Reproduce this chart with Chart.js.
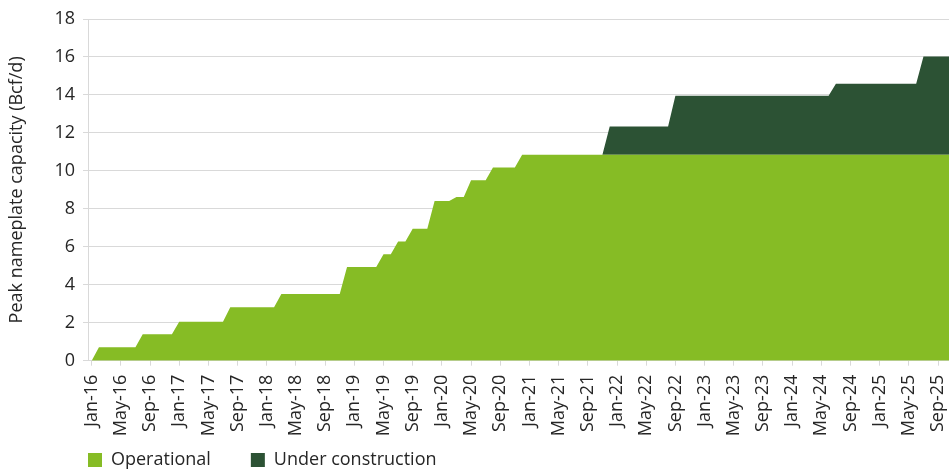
<!DOCTYPE html>
<html>
<head>
<meta charset="utf-8">
<script src="https://cdn.jsdelivr.net/npm/chart.js@4.4.1/dist/chart.umd.min.js"></script>
<style>
  html, body { margin: 0; padding: 0; background: #ffffff; }
  canvas { display: block; }
</style>
</head>
<body>
<canvas id="chart" width="949" height="469"></canvas>
<script>
// ---- Data ----
const categories = [
  'Jan-16','Feb-16','Mar-16','Apr-16','May-16','Jun-16','Jul-16','Aug-16','Sep-16','Oct-16','Nov-16','Dec-16',
  'Jan-17','Feb-17','Mar-17','Apr-17','May-17','Jun-17','Jul-17','Aug-17','Sep-17','Oct-17','Nov-17','Dec-17',
  'Jan-18','Feb-18','Mar-18','Apr-18','May-18','Jun-18','Jul-18','Aug-18','Sep-18','Oct-18','Nov-18','Dec-18',
  'Jan-19','Feb-19','Mar-19','Apr-19','May-19','Jun-19','Jul-19','Aug-19','Sep-19','Oct-19','Nov-19','Dec-19',
  'Jan-20','Feb-20','Mar-20','Apr-20','May-20','Jun-20','Jul-20','Aug-20','Sep-20','Oct-20','Nov-20','Dec-20',
  'Jan-21','Feb-21','Mar-21','Apr-21','May-21','Jun-21','Jul-21','Aug-21','Sep-21','Oct-21','Nov-21','Dec-21',
  'Jan-22','Feb-22','Mar-22','Apr-22','May-22','Jun-22','Jul-22','Aug-22','Sep-22','Oct-22','Nov-22','Dec-22',
  'Jan-23','Feb-23','Mar-23','Apr-23','May-23','Jun-23','Jul-23','Aug-23','Sep-23','Oct-23','Nov-23','Dec-23',
  'Jan-24','Feb-24','Mar-24','Apr-24','May-24','Jun-24','Jul-24','Aug-24','Sep-24','Oct-24','Nov-24','Dec-24',
  'Jan-25','Feb-25','Mar-25','Apr-25','May-25','Jun-25','Jul-25','Aug-25','Sep-25','Oct-25','Nov-25'
];

const operational = [
  0, 0.71, 0.71, 0.71, 0.71, 0.71, 0.71, 1.39, 1.39, 1.39, 1.39, 1.39,
  2.05, 2.05, 2.05, 2.05, 2.05, 2.05, 2.05, 2.82, 2.82, 2.82, 2.82, 2.82,
  2.82, 2.82, 3.51, 3.51, 3.51, 3.51, 3.51, 3.51, 3.51, 3.51, 3.51, 4.94,
  4.94, 4.94, 4.94, 4.94, 5.61, 5.61, 6.28, 6.28, 6.95, 6.95, 6.95, 8.41,
  8.41, 8.41, 8.62, 8.62, 9.51, 9.51, 9.51, 10.18, 10.18, 10.18, 10.18, 10.85,
  10.85, 10.85, 10.85, 10.85, 10.85, 10.85, 10.85, 10.85, 10.85, 10.85, 10.85, 10.85,
  10.85, 10.85, 10.85, 10.85, 10.85, 10.85, 10.85, 10.85, 10.85, 10.85, 10.85, 10.85,
  10.85, 10.85, 10.85, 10.85, 10.85, 10.85, 10.85, 10.85, 10.85, 10.85, 10.85, 10.85,
  10.85, 10.85, 10.85, 10.85, 10.85, 10.85, 10.85, 10.85, 10.85, 10.85, 10.85, 10.85,
  10.85, 10.85, 10.85, 10.85, 10.85, 10.85, 10.85, 10.85, 10.85, 10.85, 10.85
];

const underConstruction = [
  0, 0, 0, 0, 0, 0, 0, 0, 0, 0, 0, 0,
  0, 0, 0, 0, 0, 0, 0, 0, 0, 0, 0, 0,
  0, 0, 0, 0, 0, 0, 0, 0, 0, 0, 0, 0,
  0, 0, 0, 0, 0, 0, 0, 0, 0, 0, 0, 0,
  0, 0, 0, 0, 0, 0, 0, 0, 0, 0, 0, 0,
  0, 0, 0, 0, 0, 0, 0, 0, 0, 0, 0, 1.49,
  1.49, 1.49, 1.49, 1.49, 1.49, 1.49, 1.49, 1.49, 3.11, 3.11, 3.11, 3.11,
  3.11, 3.11, 3.11, 3.11, 3.11, 3.11, 3.11, 3.11, 3.11, 3.11, 3.11, 3.11,
  3.11, 3.11, 3.11, 3.11, 3.11, 3.11, 3.74, 3.74, 3.74, 3.74, 3.74, 3.74,
  3.74, 3.74, 3.74, 3.74, 3.74, 3.74, 5.18, 5.18, 5.18, 5.18, 5.18
];

const seriesNames = ['Operational', 'Under construction'];
const tickLabelEvery = 4;           // a label every 4 months (Jan, May, Sep)
const visibleMonths = 118;          // Jan-16 .. Oct-25 fully visible
const yTicks = [0, 2, 4, 6, 8, 10, 12, 14, 16, 18];
const yTitle = 'Peak nameplate capacity (Bcf/d)';

// ---- Style ----
const FONT = 'Open Sans';
const TEXT = '#262626';
const GRID = '#d9d9d9';
const LIGHT = '#86bc25';
const DARK = '#2c5234';

const tickIndices = categories.map((_, i) => i).filter(i => i % tickLabelEvery === 0 && i < visibleMonths);
const toPoints = arr => arr.map((v, i) => ({ x: i, y: v }));

const legendPlacer = {
  id: 'legendPlacer',
  beforeLayout(chart) {
    const lg = chart.legend;
    if (lg && !lg.__patched) {
      const fit = lg.fit;
      lg.fit = function () { fit.call(this); this.height = 30; };
      lg.__patched = true;
    }
  },
  afterLayout(chart) {
    const lg = chart.legend;
    if (!lg) return;
    const pad = lg.options.labels.padding;
    lg.left = chart.chartArea.left - pad;
    lg.top = 451 - pad;
  }
};

new Chart(document.getElementById('chart'), {
  type: 'line',
  data: {
    datasets: [
      {
        label: seriesNames[0],
        data: toPoints(operational),
        backgroundColor: LIGHT,
        borderColor: LIGHT,
        borderWidth: 0,
        pointRadius: 0,
        fill: 'origin',
        tension: 0
      },
      {
        label: seriesNames[1],
        data: toPoints(underConstruction),
        backgroundColor: DARK,
        borderColor: DARK,
        borderWidth: 0,
        pointRadius: 0,
        fill: '-1',
        tension: 0
      }
    ]
  },
  options: {
    responsive: false,
    animation: false,
    devicePixelRatio: 1,
    events: [],
    layout: { padding: { top: 19, left: 0, right: 0, bottom: 0 } },
    plugins: {
      tooltip: { enabled: false },
      legend: {
        position: 'bottom',
        align: 'start',
        labels: {
          boxWidth: 14,
          boxHeight: 14,
          padding: 40,
          color: TEXT,
          font: { family: FONT, size: 18 }
        }
      }
    },
    scales: {
      x: {
        type: 'linear',
        min: -0.5,
        max: visibleMonths - 0.5,
        afterBuildTicks: s => { s.ticks = tickIndices.map(v => ({ value: v })); },
        ticks: {
          autoSkip: false,
          minRotation: 90,
          maxRotation: 90,
          padding: 9,
          color: TEXT,
          font: { family: FONT, size: 18 },
          callback: v => categories[v]
        },
        grid: { drawOnChartArea: false, drawTicks: true, tickLength: 5, color: GRID },
        border: { color: GRID },
        afterFit: s => { s.height = 78.3; s.paddingLeft = 0; s.paddingRight = 0; }
      },
      y: {
        stacked: true,
        min: 0,
        max: 18,
        afterBuildTicks: s => { s.ticks = yTicks.map(v => ({ value: v })); },
        ticks: {
          padding: 8,
          color: TEXT,
          font: { family: FONT, size: 18 }
        },
        grid: { color: GRID, tickLength: 5 },
        border: { color: GRID },
        title: {
          display: true,
          text: yTitle,
          color: TEXT,
          font: { family: FONT, size: 18 },
          padding: { top: 6.5, bottom: 0 }
        },
        afterFit: s => { s.width = 88; }
      }
    }
  },
  plugins: [legendPlacer]
});
</script>
</body>
</html>
